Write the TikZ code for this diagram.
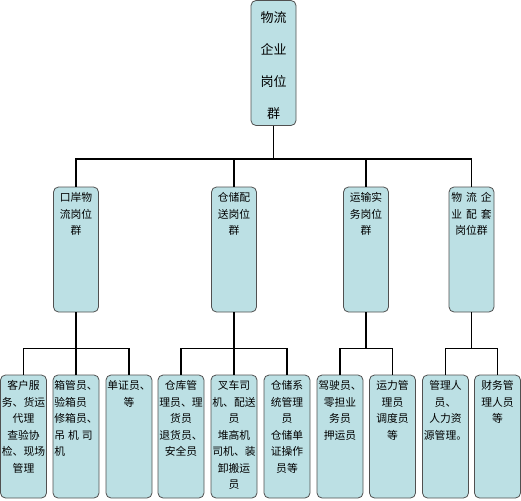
\documentclass[tikz,border=0pt]{standalone}
\usepackage{fontspec}
\newfontfamily\cjk{Noto Sans CJK SC}
\definecolor{boxfill}{HTML}{BCE0E4}
\definecolor{boxline}{HTML}{505050}
\begin{document}
\begin{tikzpicture}[x=1pt,y=-1pt,
  post/.style={draw=boxline,line width=0.8pt,fill=boxfill,rounded corners=5pt,inner sep=0pt,minimum width=45pt},
  grp/.style={post,minimum height=125pt},
  job/.style={post,minimum width=46pt,minimum height=123pt},
  txt/.style={anchor=north,align=center,inner sep=6pt,font=\cjk\fontsize{10.8}{16.5}\selectfont},
  conn/.style={line width=1.6pt}]
\useasboundingbox (0,0) rectangle (521,500);
% top
\node[grp,label={[txt,inner sep=11pt,font=\cjk\fontsize{13}{32}\selectfont]north:物流\\企业\\岗位\\群}] (top) at (273.5,63) {};
% groups
\node[grp,label={[txt]north:口岸物\\流岗位\\群}] (kou) at (76,249.5) {};
\node[grp,label={[txt]north:仓储配\\送岗位\\群}] (cang) at (234,249.5) {};
\node[grp,label={[txt]north:运输实\\务岗位\\群}] (yun) at (366,249.5) {};
\node[grp,label={[txt]north:物\hspace{4pt}流\hspace{4pt}企\\业\hspace{4pt}配\hspace{4pt}套\\岗位群}] (pei) at (471.5,249.5) {};
% jobs
\node[job,label={[txt]north:客户服\\务、货运\\代理\\查验协\\检、现场\\管理}] (kehu) at (23.5,436.5) {};
\node[job,label={[txt,align=left]north:箱管员、\\验箱员\\修箱员、\\吊\hspace{3pt}机\hspace{3pt}司\\机}] (xiang) at (76,436.5) {};
\node[job,label={[txt]north:单证员、\\等}] (danzheng) at (129,436.5) {};
\node[job,label={[txt]north:仓库管\\理员、理\\货员\\退货员、\\安全员}] (kuguan) at (181,436.5) {};
\node[job,label={[txt]north:叉车司\\机、配送\\员\\堆高机\\司机、装\\卸搬运\\员}] (chache) at (234,436.5) {};
\node[job,label={[txt]north:仓储系\\统管理\\员\\仓储单\\证操作\\员等}] (xitong) at (287,436.5) {};
\node[job,label={[txt]north:驾驶员、\\零担业\\务员\\押运员}] (jiashi) at (340,436.5) {};
\node[job,label={[txt]north:运力管\\理员\\调度员\\等}] (yunli) at (392.5,436.5) {};
\node[job,label={[txt]north:管理人\\员、\\人力资\\源管理。}] (renli) at (445.5,436.5) {};
\node[job,label={[txt]north:财务管\\理人员\\等}] (caiwu) at (497.5,436.5) {};
% connectors
\coordinate (bus) at (273.5,159);
\foreach \g in {kou,cang,yun,pei}
  \draw[conn] (top.south) -- (bus) -| (\g.north);
\foreach \g/\j in {kou/kehu,kou/xiang,kou/danzheng,cang/kuguan,cang/chache,cang/xitong,yun/jiashi,yun/yunli,pei/renli,pei/caiwu}
  \draw[conn] (\g.south) -- ++(0,36) -| (\j.north);
\end{tikzpicture}
\end{document}
